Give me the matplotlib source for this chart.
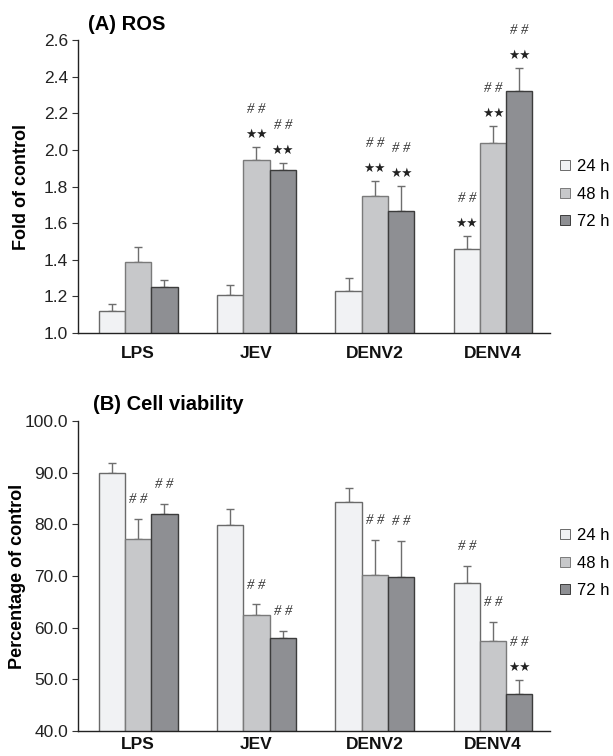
import matplotlib
matplotlib.use("Agg")
import matplotlib.pyplot as plt
import numpy as np
from matplotlib.lines import Line2D

groups = ["LPS", "JEV", "DENV2", "DENV4"]
series = ["24 h", "48 h", "72 h"]

ros_mean = {
    "24 h": [1.12, 1.21, 1.23, 1.46],
    "48 h": [1.39, 1.945, 1.75, 2.04],
    "72 h": [1.25, 1.89, 1.665, 2.32],
}
ros_err = {
    "24 h": [0.04, 0.05, 0.07, 0.07],
    "48 h": [0.08, 0.07, 0.08, 0.09],
    "72 h": [0.04, 0.04, 0.14, 0.13],
}
# significance marks
ros_star = {
    "24 h": [0, 0, 0, 1],
    "48 h": [0, 1, 1, 1],
    "72 h": [0, 1, 1, 1],
}
ros_hash = {
    "24 h": [0, 0, 0, 1],
    "48 h": [0, 1, 1, 1],
    "72 h": [0, 1, 1, 1],
}

via_mean = {
    "24 h": [89.9, 79.9, 84.3, 68.7],
    "48 h": [77.1, 62.4, 70.3, 57.4],
    "72 h": [82.0, 58.0, 69.8, 47.1],
}
via_err = {
    "24 h": [2.0, 3.0, 2.7, 3.3],
    "48 h": [4.0, 2.1, 6.6, 3.7],
    "72 h": [1.9, 1.3, 7.0, 2.8],
}
via_star = {
    "24 h": [0, 0, 0, 0],
    "48 h": [0, 0, 0, 0],
    "72 h": [0, 0, 0, 1],
}
via_hash = {
    "24 h": [0, 0, 0, 1],
    "48 h": [1, 1, 1, 1],
    "72 h": [1, 1, 1, 1],
}

face = {"24 h": "#f1f2f4", "48 h": "#c7c8ca", "72 h": "#8e8f93"}
edge = {"24 h": "#6a6a6a", "48 h": "#7a7a7a", "72 h": "#3c3c3c"}

fig = plt.figure(figsize=(6.13, 7.56), dpi=100)
plt.rcParams["font.family"] = ["Liberation Sans", "DejaVu Sans"]

axA = fig.add_axes([0.127, 0.5595, 0.77, 0.3875])
axB = fig.add_axes([0.127, 0.033, 0.77, 0.410])

W = 0.222
x = np.arange(len(groups))


def draw(ax, mean, err, star, hsh, ylim, yticks, fmt, ylabel, label_x,
         title, title_x, title_pad, legend_y, xpad):
    for i, s in enumerate(series):
        pos = x + (i - 1) * W
        ax.bar(pos, mean[s], W, bottom=0, color=face[s], edgecolor=edge[s],
               linewidth=1.0, zorder=2)
        ax.errorbar(pos, mean[s], yerr=[np.zeros(len(groups)), err[s]], fmt="none",
                    ecolor="#6e6e6e", elinewidth=1.0, capsize=3, capthick=1.0, zorder=1)
        for j in range(len(groups)):
            top = mean[s][j] + err[s][j]
            if star[s][j]:
                ax.annotate("★★", (pos[j], top), xytext=(0, 9), textcoords="offset points",
                            ha="center", va="center", fontsize=9, color="#222222",
                            family=["DejaVu Sans"])
                off = 27
            else:
                off = 14
            if hsh[s][j]:
                ax.annotate("# #", (pos[j], top), xytext=(0, off), textcoords="offset points",
                            ha="center", va="center", fontsize=10.5, color="#333333",
                            family=["Liberation Serif"], style="italic")
    ax.set_ylim(*ylim)
    ax.set_xlim(-0.51, 3.48)
    ax.set_yticks(yticks)
    ax.set_yticklabels([fmt.format(v) for v in yticks], fontsize=12.5, color="#222222")
    ax.set_xticks(x)
    ax.set_xticklabels(groups, fontsize=12.5, fontweight="bold", color="#111111")
    ax.tick_params(axis="x", length=0, pad=xpad)
    ax.tick_params(axis="y", length=4, width=0.8, pad=3, color="#333333")
    for sp in ["top", "right"]:
        ax.spines[sp].set_visible(False)
    for sp in ["left", "bottom"]:
        ax.spines[sp].set_linewidth(1.0)
        ax.spines[sp].set_color("#222222")
    ax.set_ylabel(ylabel, fontsize=13, fontweight="bold")
    ax.yaxis.set_label_coords(label_x, 0.5)
    ax.set_title(title, fontsize=14.5, fontweight="bold", loc="left", x=title_x, pad=title_pad)
    handles = [Line2D([], [], marker="s", linestyle="none", markersize=6.5,
                      markerfacecolor=face[s], markeredgecolor=edge[s], markeredgewidth=0.7)
               for s in series]
    ax.legend(handles, series, loc="center left", bbox_to_anchor=(1.01, legend_y),
              frameon=False, fontsize=12, handlelength=0.7, handletextpad=0.35,
              labelspacing=0.74, borderaxespad=0.0, borderpad=0.3)


draw(axA, ros_mean, ros_err, ros_star, ros_hash, (1.0, 2.6),
     [1.0, 1.2, 1.4, 1.6, 1.8, 2.0, 2.2, 2.4, 2.6], "{:.1f}", "Fold of control", -0.102,
     "(A) ROS", 0.021, 7, 0.474, 9)
draw(axB, via_mean, via_err, via_star, via_hash, (40, 100),
     [40, 50, 60, 70, 80, 90, 100], "{:.1f}", "Percentage of control", -0.109,
     "(B) Cell viability", 0.032, 8, 0.542, 4)

fig.savefig("out.png", dpi=100)
